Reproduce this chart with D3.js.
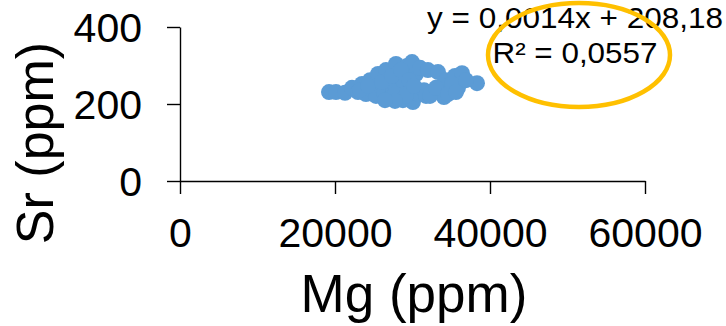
<!DOCTYPE html>
<html>
<head>
<meta charset="utf-8">
<script src="https://cdn.jsdelivr.net/npm/d3@7"></script>
<style>
  body { margin: 0; background: #fff; }
  text { font-family: "Liberation Sans", Arial, sans-serif; fill: #000; }
</style>
</head>
<body>
<svg id="canvas"></svg>
<script>
// Mg (ppm) / Sr (ppm) samples
const mgValues = [19225, 20130, 21290, 22190, 22970, 23480, 24000, 24520, 24770, 25290,
  25550, 25810, 26320, 26580, 26840, 27100, 27480, 27870, 28130, 28390,
  28770, 28900, 29290, 29680, 29940, 30060, 30450, 30710, 30970, 31480,
  31990, 32520, 33290, 33550, 34320, 34840, 35480, 35870, 36390, 38320,
  23230, 24260, 26060, 27350, 27740, 28520, 29160, 29550, 30190, 31740,
  33810, 34060, 35100, 27740, 26450, 32260, 33030, 34580, 35610, 36900];
const srValues = [231, 231, 229, 242, 231, 252, 226, 262, 236, 221,
  278, 247, 229, 288, 262, 216, 242, 304, 273, 226,
  210, 252, 299, 236, 309, 205, 278, 226, 294, 236,
  288, 231, 283, 231, 262, 236, 273, 242, 280, 254,
  236, 247, 257, 273, 226, 288, 221, 262, 247, 221,
  247, 218, 252, 208, 210, 221, 242, 226, 231, 262];

const xTicks = [0, 20000, 40000, 60000];
const yTicks = [0, 200, 400];
const xTitle = 'Mg (ppm)';
const yTitle = 'Sr (ppm)';
const eqLine = 'y = 0,0014x + 208,18';
const r2Line = 'R² = 0,0557';

const w = 726;
const h = 326;

const data = mgValues.map((d, i) => [d, srValues[i]]);

const xScale = d3.scaleLinear().domain([0, 60000]).range([180, 645]);
const yScale = d3.scaleLinear().domain([0, 400]).range([181, 27]);

const svg = d3.select('#canvas').attr('width', w).attr('height', h);

// points
svg.append('g')
  .selectAll('circle')
  .data(data)
  .enter()
  .append('circle')
  .attr('cx', (d) => xScale(d[0]))
  .attr('cy', (d) => yScale(d[1]))
  .attr('r', 8)
  .attr('fill', '#5B9BD5');

// axes
const xAxis = d3.axisBottom(xScale).tickValues(xTicks).tickFormat(d3.format('d'))
  .tickSize(13).tickSizeOuter(0).tickPadding(24);
const yAxis = d3.axisLeft(yScale).tickValues(yTicks).tickFormat(d3.format('d'))
  .tickSize(13).tickSizeOuter(0).tickPadding(25);

const gx = svg.append('g').attr('transform', 'translate(0,' + yScale(0) + ')').call(xAxis);
const gy = svg.append('g').attr('transform', 'translate(' + xScale(0) + ',0)').call(yAxis);

[gx, gy].forEach((g) => {
  g.selectAll('path, line').attr('stroke', '#000').attr('stroke-width', 1.4);
  g.selectAll('text')
    .style('font-family', '"Liberation Sans", Arial, sans-serif')
    .style('font-size', '41px')
    .attr('fill', '#000');
});
gy.selectAll('text').attr('dy', '0.36em');

// axis titles
svg.append('text')
  .attr('x', 414)
  .attr('y', 312)
  .attr('text-anchor', 'middle')
  .style('font-size', '53px')
  .text(xTitle);

svg.append('text')
  .attr('transform', 'translate(53,143) rotate(-90)')
  .attr('text-anchor', 'middle')
  .style('font-size', '52px')
  .text(yTitle);

// trendline label
svg.append('text')
  .attr('x', 575)
  .attr('y', 28)
  .attr('text-anchor', 'middle')
  .attr('textLength', 296)
  .attr('lengthAdjust', 'spacingAndGlyphs')
  .style('font-size', '29px')
  .text(eqLine);

svg.append('text')
  .attr('x', 575)
  .attr('y', 63)
  .attr('text-anchor', 'middle')
  .attr('textLength', 165)
  .attr('lengthAdjust', 'spacingAndGlyphs')
  .style('font-size', '29px')
  .text(r2Line);

// highlight ellipse
svg.append('ellipse')
  .attr('cx', 579)
  .attr('cy', 55)
  .attr('rx', 91)
  .attr('ry', 52)
  .attr('fill', 'none')
  .attr('stroke', '#FFC000')
  .attr('stroke-width', 4.5);
</script>
</body>
</html>
